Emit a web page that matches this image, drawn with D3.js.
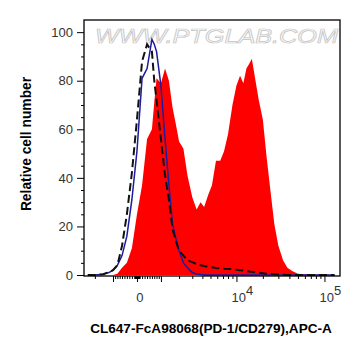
<!DOCTYPE html>
<html><head><meta charset="utf-8">
<script src="https://cdn.jsdelivr.net/npm/d3@7/dist/d3.min.js"></script>
<style>body{margin:0;background:#fff}svg{display:block}</style>
</head><body><svg id="c" width="361" height="356"></svg>
<script>
// ---- data ----
const xValues = [-2500,-2000,-1500,-1200,-1000,-800,-600,-400,-200,0,200,400,600,700,800,1000,1200,1400,1600,1800,2000,2300,2600,3000,3400,3800,4200,4700,5200,5800,6500,7200,8000,9000,10000,11000,12000,13000,14000,15000,16500,18000,20000,22000,24000,27000,30000,34000,38000,43000,50000,60000,75000,100000,130000];
const redCounts = [0,0,0,0,0,0.5,3,5,11,25,37,56,60,71,81,79,85,80,69,62,55,52,41,32,27,30,28,33,37,47,47,51,58,70,78,82,79,85,87,89,80,72,64,49,37,21,12,6,3,1.6,0.5,0.3,0.2,0.1,0];
const blueCounts = [0,0,0.3,1,2,4,8,16,31,51,81,85,97,95,92,78,56,37,21,15,10,5,3,1,0.4,0.2,0,0,0,0,0,0,0,0,0,0,0,0,0,0,0,0,0,0,0,0,0,0,0,0,0,0,0,0,0];
const blackCounts = [0,0,0.3,1.2,2,4,12,25,42,64,88,95,92,80,72,56,41,31,19,14,10,8,6,5.3,4.5,4,3.7,3.3,3.2,2.9,2.8,2.6,2.5,2.4,2.2,2.0,1.8,1.6,1.4,1.3,1.1,0.9,0.7,0.5,0.4,0.3,0.2,0.1,0,0,0,0,0,0,0];
const yTickValues = [0,20,40,60,80,100];
const xMajorTicks = [-1000,0,1000,10000,100000];
const xLabelTicks = [0,10000,100000];
const xTitle = "CL647-FcA98068(PD-1/CD279),APC-A";
const yTitle = "Relative cell number";
const watermark = "WWW.PTGLAB.COM";

// ---- layout ----
const L=84,R=340,T=20,B=276;
const C=1500;
const tf = v => Math.asinh(v/C);
const lin = d3.scaleLinear().domain([tf(-2800), tf(150000)]).range([L,R]);
const x = v => lin(tf(v));
const y = d3.scaleLinear().domain([0,105]).range([275,20]);
const FONT = "'Liberation Sans', Arial, sans-serif";

const svg = d3.select("#c");
svg.append("defs").append("clipPath").attr("id","clip")
  .append("rect").attr("x",L).attr("y",T).attr("width",R-L).attr("height",B-T);

// watermark
svg.append("text").attr("x",95).attr("y",43)
  .attr("textLength",243).attr("lengthAdjust","spacingAndGlyphs")
  .style("font-family",FONT).style("font-size","20px").style("font-style","italic")
  .attr("fill","#fafafa").attr("stroke","#c4c4c4").attr("stroke-width",0.7)
  .text(watermark);

const pts = arr => xValues.map((v,i)=>({v, c:arr[i]}));
const g = svg.append("g").attr("clip-path","url(#clip)");
g.append("path").datum(pts(redCounts))
  .attr("fill","#ff0000")
  .attr("d", d3.area().x(d=>x(d.v)).y0(y(0)).y1(d=>y(d.c)));
g.append("path").datum(pts(blueCounts))
  .attr("fill","none").attr("stroke","#1c1ca0").attr("stroke-width",1.5)
  .attr("d", d3.line().x(d=>x(d.v)).y(d=>y(d.c)));
g.append("path").datum(pts(blackCounts))
  .attr("fill","none").attr("stroke","#111").attr("stroke-width",2)
  .attr("stroke-dasharray","8,4")
  .attr("d", d3.line().x(d=>x(d.v)).y(d=>y(d.c)));

// frame
svg.append("rect").attr("x",L).attr("y",T).attr("width",R-L).attr("height",B-T)
  .attr("fill","none").attr("stroke","#000").attr("stroke-width",1.3);

// y axis
const yMinor = d3.range(0,105,5).filter(v=>v%20!==0);
const ya = svg.append("g").attr("transform",`translate(${L},0)`)
  .call(d3.axisLeft(y).tickValues(yTickValues).tickSize(7).tickPadding(4));
svg.append("g").attr("transform",`translate(${L},0)`)
  .call(d3.axisLeft(y).tickValues(yMinor).tickSize(3).tickFormat(""));
svg.selectAll(".domain").remove();
ya.selectAll("text").style("font-family",FONT).style("font-size","13px").attr("fill","#333");

// x axis
const xMinor = [];
[-1,1].forEach(s=>[10,100,1000,10000].forEach(d=>{for(let m=1;m<=9;m++){const v=s*m*d; if(!xMajorTicks.includes(v)) xMinor.push(v);}}));
const xMinorIn = xMinor.filter(v=>v>=-2800 && v<=150000);
svg.append("g").attr("transform",`translate(0,${B})`)
  .call(d3.axisBottom(lin).tickValues(xMajorTicks.map(tf)).tickSize(6).tickFormat(""));
svg.append("g").attr("transform",`translate(0,${B})`)
  .call(d3.axisBottom(lin).tickValues(xMinorIn.map(tf)).tickSize(3).tickFormat(""));
svg.selectAll(".domain").remove();
svg.selectAll(".tick line").attr("stroke","#000");

const xl = svg.append("g");
xLabelTicks.forEach(v=>{
  const t = xl.append("text").attr("y",302).attr("text-anchor","middle")
    .style("font-family",FONT).style("font-size","13px").attr("fill","#333");
  if(v===0){ t.attr("x",x(v)+3).text("0"); }
  else {
    t.attr("x",x(v)+6);
    t.append("tspan").text("10");
    t.append("tspan").attr("dy",-7).text(String(Math.round(Math.log10(v))));
  }
});

// titles
svg.append("text").attr("x",211).attr("y",333).attr("text-anchor","middle")
  .style("font-family",FONT).style("font-size","13.6px").style("font-weight","bold")
  .text(xTitle);
svg.append("text").attr("transform","translate(31,144) rotate(-90)").attr("text-anchor","middle")
  .style("font-family",FONT).style("font-size","13.8px").style("font-weight","bold")
  .text(yTitle);
</script></body></html>
